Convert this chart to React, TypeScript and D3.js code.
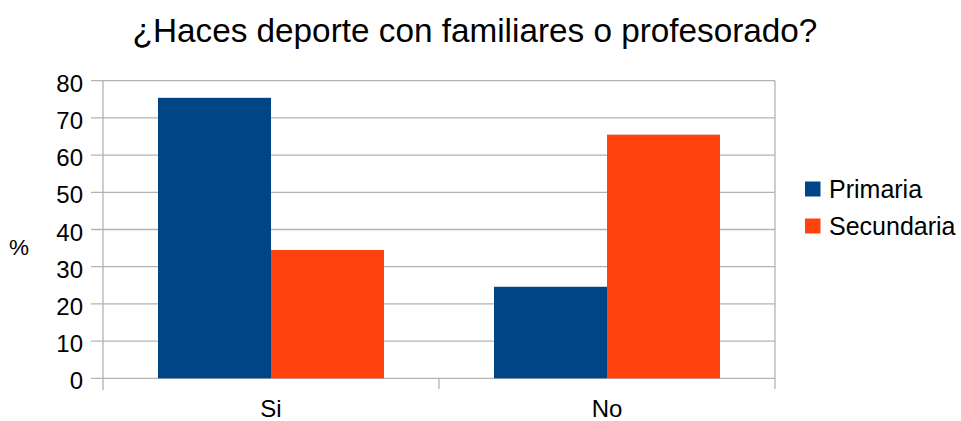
import React from "react";
import * as d3 from "d3";

const title = "¿Haces deporte con familiares o profesorado?";
const categories = ["Si", "No"];
const seriesNames = ["Primaria", "Secundaria"];
const primaria = [75.4, 24.6];
const secundaria = [34.5, 65.5];
const colors = ["#004586", "#ff420e"];
const yTicks = [0, 10, 20, 30, 40, 50, 60, 70, 80];
const yLabel = "%";

const W = 961;
const H = 421;
const left = 103;
const right = 775;
const top = 80.7;
const bottom = 378.3;
const font = "'Liberation Sans', Arial, sans-serif";

export default function App() {
  const x = d3.scaleBand<string>().domain(categories).range([left, right]);
  const y = d3.scaleLinear().domain([0, 80]).range([bottom, top]);
  const series = [primaria, secundaria];
  const pad = x.bandwidth() * (55 / 336);
  const barW = (x.bandwidth() - 2 * pad) / 2;
  const boundaries = categories.map((c) => (x(c) as number) + x.bandwidth());

  return (
    <svg
      width={W}
      height={H}
      style={{ position: "absolute", left: 0, top: 0, display: "block", background: "#fff" }}
      fontFamily={font}
    >
      <text x={475} y={42} fontSize={33.3} textAnchor="middle" fill="#000">
        {title}
      </text>
      {yTicks.map((t) => (
        <g key={t}>
          <line x1={91} x2={right} y1={y(t)} y2={y(t)} stroke="#b3b3b3" strokeWidth={1.3} />
          <text x={83} y={y(t) + 11} fontSize={24} textAnchor="end" fill="#000">
            {t}
          </text>
        </g>
      ))}
      <line x1={left} x2={left} y1={top} y2={390} stroke="#b3b3b3" strokeWidth={1.3} />
      {boundaries.map((b, i) => (
        <line key={i} x1={b} x2={b} y1={i === boundaries.length - 1 ? top : bottom} y2={389} stroke="#b3b3b3" strokeWidth={1.3} />
      ))}
      {categories.map((c, ci) =>
        series.map((s, si) => (
          <rect
            key={c + si}
            x={(x(c) as number) + pad + si * barW}
            y={y(s[ci])}
            width={barW}
            height={bottom - y(s[ci])}
            fill={colors[si]}
          />
        ))
      )}
      {categories.map((c) => (
        <text key={c} x={(x(c) as number) + x.bandwidth() / 2} y={417} fontSize={24} textAnchor="middle" fill="#000">
          {c}
        </text>
      ))}
      <text x={19} y={255} fontSize={22.5} textAnchor="middle" fill="#000">
        {yLabel}
      </text>
      {seriesNames.map((n, i) => (
        <g key={n}>
          <rect x={805} y={181.5 + i * 37} width={15.5} height={15} fill={colors[i]} />
          <text x={829} y={197.5 + i * 37} fontSize={25} fill="#000">
            {n}
          </text>
        </g>
      ))}
    </svg>
  );
}
